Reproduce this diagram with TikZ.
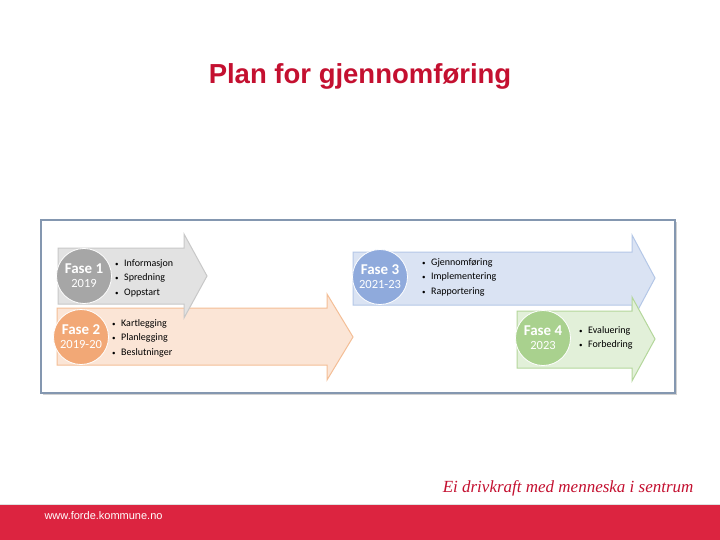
\documentclass[tikz,border=0pt]{standalone}
\usepackage{fontspec}
\setmainfont{Carlito}
\newfontfamily\headfont{Liberation Sans}
\newfontfamily\mottofont{Liberation Serif}
\usetikzlibrary{positioning}

\definecolor{titlered}{RGB}{196,16,48}
\definecolor{bandred}{RGB}{220,36,64}
\definecolor{frameline}{RGB}{132,151,176}
\definecolor{greyfill}{RGB}{226,226,226}
\definecolor{greyline}{RGB}{200,200,200}
\definecolor{greydot}{RGB}{166,166,166}
\definecolor{orangefill}{RGB}{251,229,214}
\definecolor{orangeline}{RGB}{244,190,150}
\definecolor{orangedot}{RGB}{242,168,118}
\definecolor{bluefill}{RGB}{218,227,243}
\definecolor{blueline}{RGB}{180,199,231}
\definecolor{bluedot}{RGB}{143,170,220}
\definecolor{greenfill}{RGB}{226,240,217}
\definecolor{greenline}{RGB}{180,215,155}
\definecolor{greendot}{RGB}{169,209,142}

\newcommand{\bul}{\makebox[9pt][l]{\scriptsize\textbullet}}

\begin{document}
\begin{tikzpicture}[
			x=1pt, y=-1pt,
			phase/.style={
				circle,
				minimum size=55pt,
				inner sep=0pt,
				draw=white,
				line width=0.8pt,
				text=white,
				align=center,
				font=\fontsize{12.5}{14}\selectfont
			},
			steps/.style={anchor=west, inner sep=0pt, align=left, font=\fontsize{10}{14.5}\selectfont},
			band/.style={line width=1pt, line join=miter}
			]
			
			\useasboundingbox[fill=white] (0,0) rectangle (720,540);
			
			\node[font=\headfont\bfseries\fontsize{27.5}{30}\selectfont, text=titlered] (title) at (360,76) {Plan for gjennomf\o ring};
			
			% ramme
			\fill[black!18] (43,222) rectangle (677,395);
			\filldraw[fill=white, draw=frameline, line width=1.5pt] (41,220) rectangle (675,393);
			
			% piler
			\filldraw[band, fill=orangefill, draw=orangeline] (57,308) -- (327,308) -- (327,294) -- (353,337) -- (327,380) -- (327,365) -- (57,365) -- cycle;
			\filldraw[band, fill=greyfill, draw=greyline] (58,248) -- (184,248) -- (184,234) -- (207,276) -- (184,318) -- (184,304) -- (58,304) -- cycle;
			\filldraw[band, fill=bluefill, draw=blueline] (353,252) -- (632,252) -- (632,235) -- (655,278) -- (632,321) -- (632,305) -- (353,305) -- cycle;
			\filldraw[band, fill=greenfill, draw=greenline] (517,311) -- (632,311) -- (632,297) -- (655,339) -- (632,381) -- (632,368) -- (517,368) -- cycle;
			
			\node[phase, fill=greydot] (f1) at (84,276) {{\bfseries\fontsize{15}{16}\selectfont Fase 1}\\2019};
			\node[phase, fill=orangedot] (f2) at (81,337) {{\bfseries\fontsize{15}{16}\selectfont Fase 2}\\2019-20};
			\node[phase, fill=bluedot] (f3) at (380,277) {{\bfseries\fontsize{15}{16}\selectfont Fase 3}\\2021-23};
			\node[phase, fill=greendot] (f4) at (543,338) {{\bfseries\fontsize{15}{16}\selectfont Fase 4}\\2023};
			
			\node[steps] (l1) at (115,278) {\bul Informasjon\\\bul Spredning\\\bul Oppstart};
			\node[steps] (l2) at (112,338) {\bul Kartlegging\\\bul Planlegging\\\bul Beslutninger};
			\node[steps] (l3) at (422,277) {\bul Gjennomf\o ring\\\bul Implementering\\\bul Rapportering};
			\node[steps] (l4) at (579,338) {\bul Evaluering\\\bul Forbedring};
			
			% bunn
			\node[anchor=east, font=\mottofont\itshape\fontsize{17}{19}\selectfont, text=titlered] (motto) at (697,488) {Ei drivkraft med menneska i sentrum};
			\draw[black!12, line width=1pt] (0,504) -- (720,504);
			\fill[bandred] (0,505) rectangle (720,540);
			\node[anchor=west, font=\headfont\fontsize{11}{12}\selectfont, text=white] (url) at (41,516) {www.forde.kommune.no};
			
		\end{tikzpicture}
\end{document}
